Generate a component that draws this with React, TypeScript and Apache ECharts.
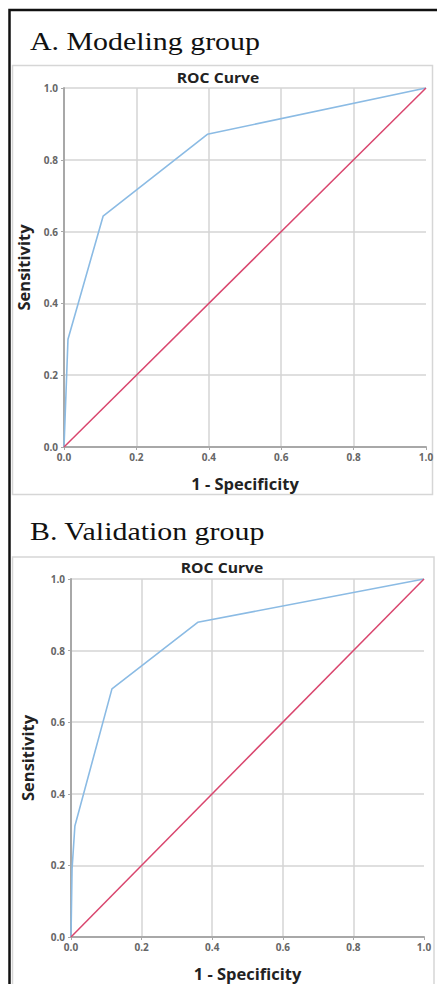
import React, { useEffect, useRef } from "react";
import * as echarts from "echarts";

// Panel A (Modeling group) ROC points
const modelingFpr = [0, 0.011, 0.108, 0.396, 1];
const modelingTpr = [0, 0.3, 0.643, 0.871, 1];
// Panel B (Validation group) ROC points
const validationFpr = [0, 0.003, 0.011, 0.116, 0.359, 1];
const validationTpr = [0, 0.19, 0.31, 0.693, 0.879, 1];
// Reference line
const diagonalX = [0, 1];
const diagonalY = [0, 1];

const panelTitles = ["A. Modeling group", "B. Validation group"];
const chartTitle = "ROC Curve";
const xName = "1 - Specificity";
const yName = "Sensitivity";

const BLUE = "#8bbbe4";
const RED = "#d9466e";
const GRID = "#d4d4d4";
const AXIS = "#a8a8a8";
const SANS = "'Open Sans', 'Noto Sans', sans-serif";

const pairs = (xs: number[], ys: number[]) => xs.map((x, i) => [x, ys[i]]);

function axisX(gridIndex: number, nameGap: number) {
  return {
    type: "value",
    gridIndex,
    min: 0,
    max: 1,
    interval: 0.2,
    name: xName,
    nameLocation: "middle",
    nameGap,
    nameTextStyle: { fontFamily: SANS, fontWeight: "bold", fontSize: 16.5, color: "#222", lineHeight: 18 },
    axisLine: { show: true, lineStyle: { color: AXIS, width: 2 } },
    axisTick: { show: true, length: 3, lineStyle: { color: AXIS } },
    axisLabel: {
      margin: 5,
      fontFamily: SANS,
      fontSize: 10,
      fontWeight: "bold",
      color: "#666",
      formatter: (v: number) => v.toFixed(1),
    },
    splitLine: { show: true, showMaxLine: false, lineStyle: { color: GRID, width: 1.5 } },
  };
}

function axisY(gridIndex: number, nameGap: number) {
  return {
    type: "value",
    gridIndex,
    min: 0,
    max: 1,
    interval: 0.2,
    name: yName,
    nameLocation: "middle",
    nameGap,
    nameTextStyle: { fontFamily: SANS, fontWeight: "bold", fontSize: 16.5, color: "#222" },
    axisLine: { show: true, lineStyle: { color: AXIS, width: 2 } },
    axisTick: { show: true, length: 3, lineStyle: { color: AXIS } },
    axisLabel: {
      margin: 6,
      fontFamily: SANS,
      fontSize: 10,
      fontWeight: "bold",
      color: "#666",
      formatter: (v: number) => v.toFixed(1),
    },
    splitLine: { show: true, lineStyle: { color: GRID, width: 1.5 } },
  };
}

export default function App() {
  const ref = useRef<HTMLDivElement>(null);
  useEffect(() => {
    if (!ref.current) return;
    const chart = echarts.init(ref.current, null, { renderer: "svg" });
    chart.setOption({
      animation: false,
      backgroundColor: "#ffffff",
      grid: [
        { left: 64, top: 88, width: 362, height: 359 },
        { left: 71, top: 579, width: 353, height: 358 },
      ],
      xAxis: [axisX(0, 27), axisX(1, 27)],
      yAxis: [axisY(0, 32), axisY(1, 35.5)],
      graphic: [
        {
          type: "rect",
          shape: { x: 9.5, y: 10, width: 440, height: 990 },
          style: { fill: "none", stroke: "#111", lineWidth: 2.5 },
          z: 100,
        },
        {
          type: "rect",
          shape: { x: 12.5, y: 65.5, width: 420, height: 429 },
          style: { fill: "none", stroke: "#d6d6d6", lineWidth: 1.5 },
        },
        {
          type: "rect",
          shape: { x: 12.5, y: 557, width: 421.5, height: 440 },
          style: { fill: "none", stroke: "#d6d6d6", lineWidth: 1.5 },
        },
        {
          type: "text",
          x: 30,
          y: 28,
          scaleX: 1.15,
          style: {
            text: panelTitles[0],
            font: "26px 'Liberation Serif', 'Times New Roman', serif",
            fill: "#111",
            verticalAlign: "top",
          },
        },
        {
          type: "text",
          x: 30,
          y: 518,
          scaleX: 1.15,
          style: {
            text: panelTitles[1],
            font: "26px 'Liberation Serif', 'Times New Roman', serif",
            fill: "#111",
            verticalAlign: "top",
          },
        },
        {
          type: "text",
          x: 218,
          y: 77,
          scaleX: 1.12,
          style: {
            text: chartTitle,
            font: "bold 14px " + SANS,
            fill: "#222",
            align: "center",
            verticalAlign: "middle",
          },
        },
        {
          type: "text",
          x: 222,
          y: 567.5,
          scaleX: 1.12,
          style: {
            text: chartTitle,
            font: "bold 14px " + SANS,
            fill: "#222",
            align: "center",
            verticalAlign: "middle",
          },
        },
      ],
      series: [
        {
          type: "line",
          xAxisIndex: 0,
          yAxisIndex: 0,
          data: pairs(modelingFpr, modelingTpr),
          showSymbol: false,
          lineStyle: { color: BLUE, width: 1.6 },
        },
        {
          type: "line",
          xAxisIndex: 0,
          yAxisIndex: 0,
          data: pairs(diagonalX, diagonalY),
          showSymbol: false,
          lineStyle: { color: RED, width: 1.5 },
        },
        {
          type: "line",
          xAxisIndex: 1,
          yAxisIndex: 1,
          data: pairs(validationFpr, validationTpr),
          showSymbol: false,
          lineStyle: { color: BLUE, width: 1.6 },
        },
        {
          type: "line",
          xAxisIndex: 1,
          yAxisIndex: 1,
          data: pairs(diagonalX, diagonalY),
          showSymbol: false,
          lineStyle: { color: RED, width: 1.5 },
        },
      ],
    });
    return () => chart.dispose();
  }, []);
  return (
    <div
      ref={ref}
      style={{ position: "fixed", left: 0, top: 0, width: 437, height: 984 }}
    />
  );
}
